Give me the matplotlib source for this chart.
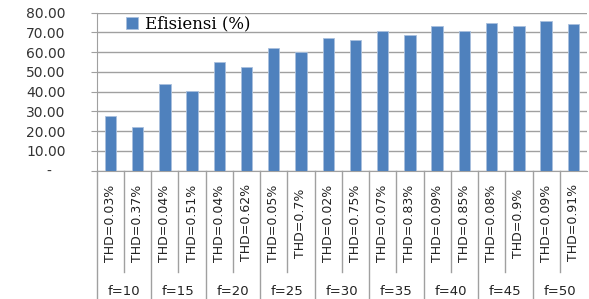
import matplotlib
matplotlib.use("Agg")
import matplotlib.pyplot as plt
import matplotlib.transforms as mtransforms

thd_labels = ["THD=0.03%", "THD=0.37%", "THD=0.04%", "THD=0.51%", "THD=0.04%", "THD=0.62%",
              "THD=0.05%", "THD=0.7%", "THD=0.02%", "THD=0.75%", "THD=0.07%", "THD=0.83%",
              "THD=0.09%", "THD=0.85%", "THD=0.08%", "THD=0.9%", "THD=0.09%", "THD=0.91%"]
group_labels = ["f=10", "f=15", "f=20", "f=25", "f=30", "f=35", "f=40", "f=45", "f=50"]
efisiensi = [27.7, 22.1, 44.0, 40.4, 55.2, 52.3, 62.3, 60.3, 67.0, 66.3,
             70.7, 68.7, 73.1, 70.7, 74.6, 73.1, 75.9, 74.3]
series_name = "Efisiensi (%)"
yticks = [0, 10, 20, 30, 40, 50, 60, 70, 80]

grid_c = "#a0a0a0"
bar_c = "#4f81bd"

fig = plt.figure(figsize=(5.89, 2.99), dpi=100)
ax = fig.add_axes([0.1642, 0.429, 0.8324, 0.5285])

x = list(range(len(efisiensi)))
bars = ax.bar(x, efisiensi, width=0.42, color=bar_c, edgecolor="#a9c0de", linewidth=0.6,
              label=series_name, zorder=3)

ax.set_xlim(-0.5, len(efisiensi) - 0.5)
ax.set_ylim(0, 80)
ax.set_yticks(yticks)
ax.set_yticklabels(["-" if v == 0 else f"{v:.2f}" for v in yticks],
                   fontsize=10, color="#333333", family="DejaVu Sans")
ax.tick_params(axis="y", length=4.5, color=grid_c, pad=18)
for lab, v in zip(ax.get_yticklabels(), yticks):
    if v == 0:
        lab.set_transform(lab.get_transform() +
                          mtransforms.ScaledTranslation(-10 / 72, 0, fig.dpi_scale_trans))
ax.set_xticks([])
ax.grid(axis="y", color=grid_c, linewidth=1.0, zorder=0)
for s in ["top", "right"]:
    ax.spines[s].set_visible(False)
ax.spines["left"].set_color(grid_c)
ax.spines["bottom"].set_color(grid_c)

trans = mtransforms.blended_transform_factory(ax.transData, ax.transAxes)
# left axis extension
ax.plot([-0.5, -0.5], [0, -0.85], transform=trans, color=grid_c, lw=1.0, clip_on=False)
for i in range(1, len(efisiensi)):
    b = i - 0.5
    y_end = -0.85 if i % 2 == 0 else -0.641
    ax.plot([b, b], [0, y_end], transform=trans, color=grid_c, lw=1.0, clip_on=False)

for i, lab in enumerate(thd_labels):
    ax.text(i, -0.33, lab, transform=trans, rotation=90, ha="center", va="center",
            fontsize=9, color="#222222", family="DejaVu Sans")
for g, lab in enumerate(group_labels):
    ax.text(2 * g + 0.5, -0.765, lab, transform=trans, ha="center", va="center",
            fontsize=9.5, color="#222222", family="DejaVu Sans")

ax.legend(loc="upper left", bbox_to_anchor=(0.03, 1.075), frameon=False,
          handlelength=0.7, handleheight=0.7, handletextpad=0.4,
          prop={"family": "DejaVu Serif", "size": 12})

fig.savefig("out.png", dpi=100)
